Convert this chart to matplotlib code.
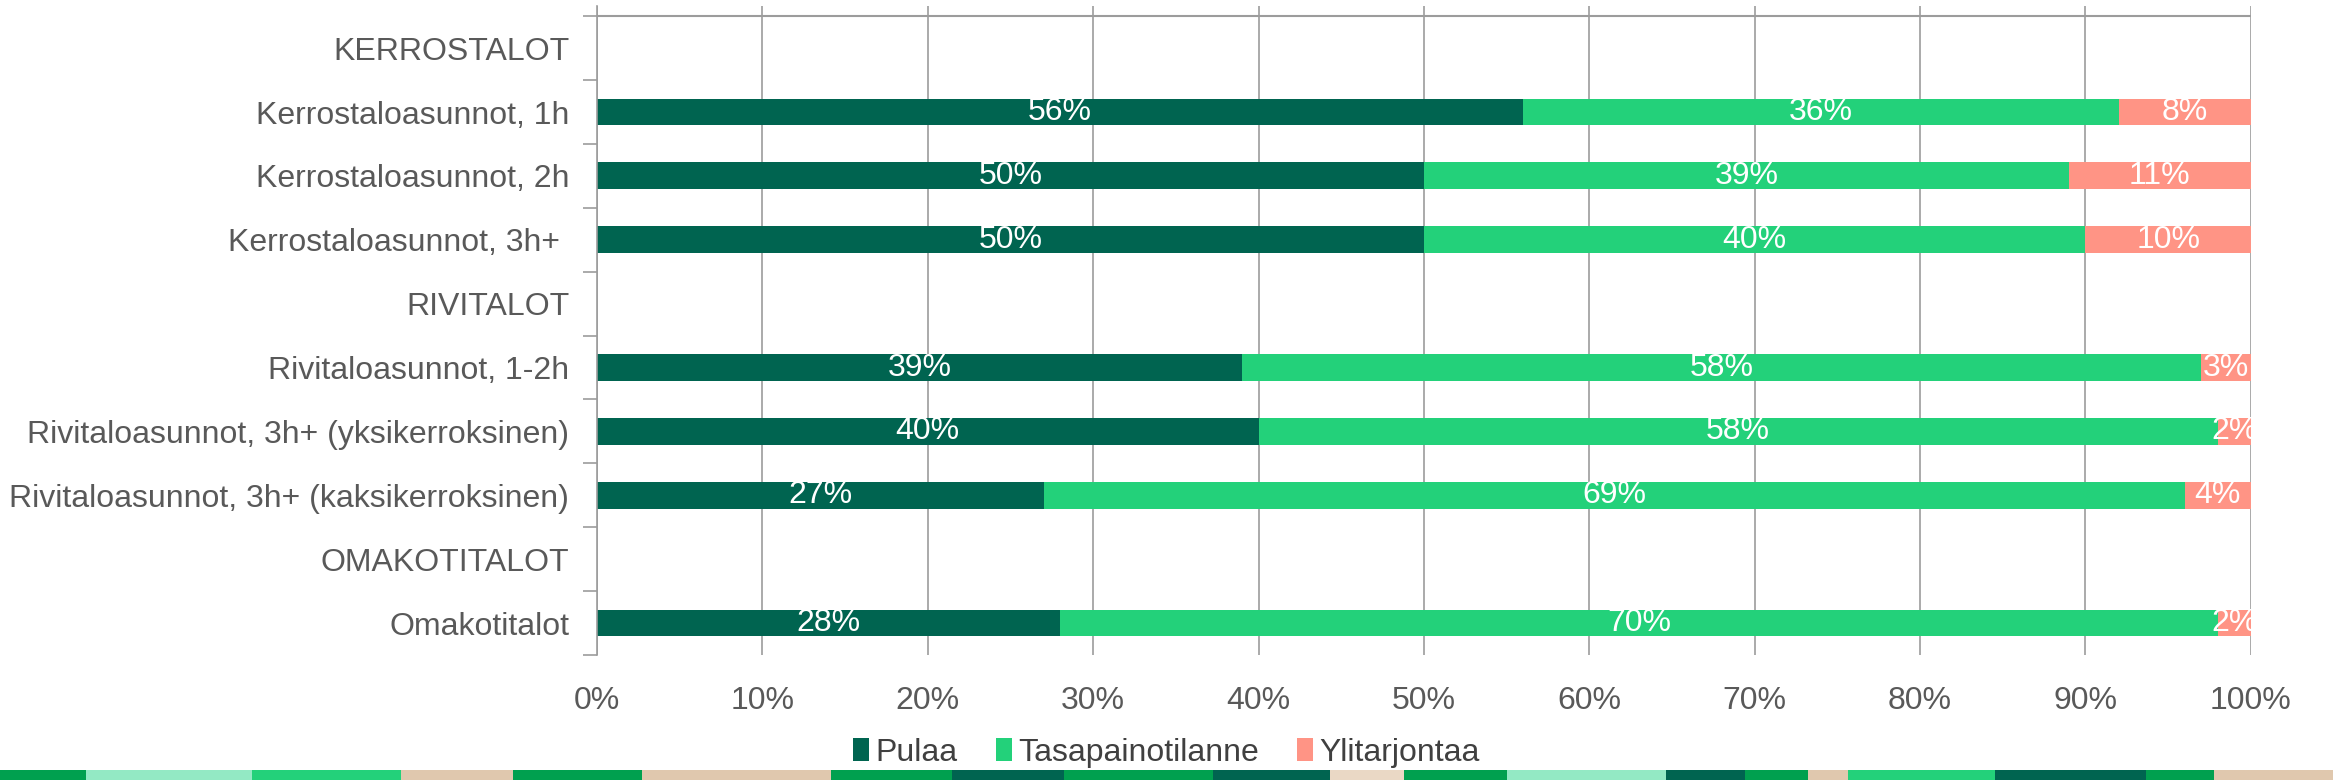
import numpy as np
import matplotlib.pyplot as plt

plt.rcParams['font.family'] = ['Liberation Sans', 'DejaVu Sans']

categories = ['KERROSTALOT', 'Kerrostaloasunnot, 1h', 'Kerrostaloasunnot, 2h',
              'Kerrostaloasunnot, 3h+ ', 'RIVITALOT', 'Rivitaloasunnot, 1-2h',
              'Rivitaloasunnot, 3h+ (yksikerroksinen)',
              'Rivitaloasunnot, 3h+ (kaksikerroksinen)', 'OMAKOTITALOT', 'Omakotitalot']
pulaa = [0, 56, 50, 50, 0, 39, 40, 27, 0, 28]
tasapaino = [0, 36, 39, 40, 0, 58, 58, 69, 0, 70]
ylitarjonta = [0, 8, 11, 10, 0, 3, 2, 4, 0, 2]
series_names = ['Pulaa', 'Tasapainotilanne', 'Ylitarjontaa']
colors = ['#006450', '#23D17A', '#FF9485']

# decorative strip at the bottom (edges in thousandths of width)
strip_edges = [0, 37, 108, 172, 220, 275, 356, 408, 456, 520, 570, 602, 646,
               714, 748, 775, 792, 855, 920, 949, 1000]
strip_colors = ['#00A04F', '#93E9C4', '#23D17A', '#E0C8AE', '#00A04F', '#E0C8AE',
                '#00A04F', '#006450', '#00A04F', '#006450', '#EAD8C5', '#00A04F',
                '#93E9C4', '#006450', '#00A04F', '#E0C8AE', '#23D17A', '#006450',
                '#00A04F', '#E0C8AE']

fs = 23
grid_c = '#9C9C9C'

fig = plt.figure(figsize=(23.33, 7.8), dpi=100)
ax = fig.add_axes([0.2559, 0.1603, 0.7089, 0.832])

y = np.arange(len(categories))
left = np.zeros(len(categories))
for vals, name, c in zip([pulaa, tasapaino, ylitarjonta], series_names, colors):
    vals = np.array(vals, dtype=float)
    bars = ax.barh(y, vals, left=left, height=0.42, color=c, label=name)
    labels = [f'{int(v)}%' if v > 0 else '' for v in vals]
    texts = ax.bar_label(bars, labels=labels, label_type='center',
                         color='white', fontsize=fs)
    for t in texts:
        t.set_clip_on(True)
    left += vals

ax.set_xlim(0, 100)
ax.set_ylim(len(categories) - 0.5, -0.66)
ax.set_xticks(np.arange(0, 101, 10))
ax.set_xticklabels([f'{v}%' for v in range(0, 101, 10)])
ax.set_yticks(y)
ax.set_yticklabels(categories)
ax.set_yticks(np.arange(-0.5, len(categories), 1), minor=True)
ax.tick_params(axis='y', which='major', length=0, pad=20, labelsize=fs, labelcolor='#595959')
ax.tick_params(axis='y', which='minor', length=10, width=1.2, color=grid_c)
ax.tick_params(axis='x', length=0, pad=22, labelsize=fs, labelcolor='#595959')
ax.grid(axis='x', color=grid_c, linewidth=1.2)
ax.set_axisbelow(True)
for s in ['top', 'right', 'bottom']:
    ax.spines[s].set_visible(False)
ax.spines['left'].set_color(grid_c)
ax.spines['left'].set_linewidth(1.2)
ax.axhline(-0.5, color=grid_c, linewidth=1.5)

fig.legend(loc='center', bbox_to_anchor=(0.5, 0.035), ncol=3, frameon=False,
           fontsize=fs, handlelength=0.5, handleheight=0.7, handletextpad=0.2,
           columnspacing=1.2, labelcolor='#404040')

sax = fig.add_axes([0, 0, 1, 10 / 780])
sax.barh(0, np.diff(strip_edges), left=strip_edges[:-1], height=1, color=strip_colors)
sax.set_xlim(0, 1000)
sax.set_ylim(-0.5, 0.5)
sax.axis('off')

fig.savefig('out.png', dpi=100)
